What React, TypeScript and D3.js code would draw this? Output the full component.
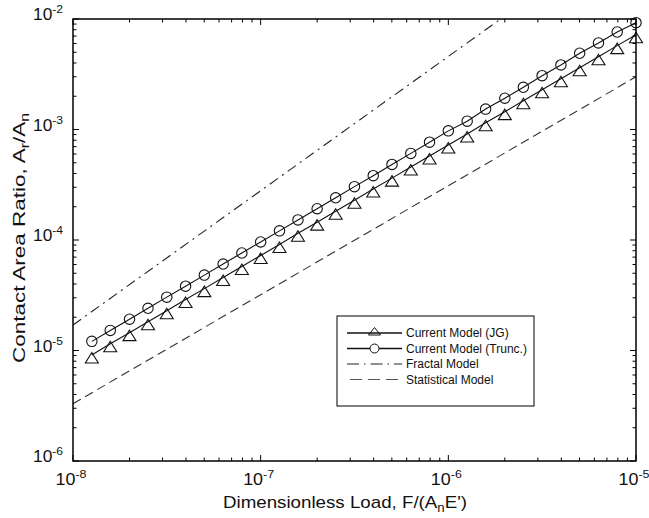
import * as d3 from 'd3';

// dimensionless load F/(An E') at the marker positions
const loads = [
  1.26e-8, 1.58e-8, 2.0e-8, 2.51e-8, 3.16e-8, 3.98e-8, 5.01e-8, 6.31e-8, 7.94e-8, 1.0e-7,
  1.26e-7, 1.58e-7, 2.0e-7, 2.51e-7, 3.16e-7, 3.98e-7, 5.01e-7, 6.31e-7, 7.94e-7, 1.0e-6,
  1.26e-6, 1.58e-6, 2.0e-6, 2.51e-6, 3.16e-6, 3.98e-6, 5.01e-6, 6.31e-6, 7.94e-6, 1.0e-5,
];

// Current Model (JG) - triangles
const ratioJG = [
  9.1e-6, 1.15e-5, 1.45e-5, 1.82e-5, 2.29e-5, 2.89e-5, 3.63e-5, 4.58e-5, 5.76e-5, 7.25e-5,
  9.1e-5, 1.15e-4, 1.45e-4, 1.82e-4, 2.29e-4, 2.89e-4, 3.63e-4, 4.58e-4, 5.76e-4, 7.25e-4,
  9.1e-4, 1.15e-3, 1.45e-3, 1.82e-3, 2.29e-3, 2.88e-3, 3.62e-3, 4.56e-3, 5.74e-3, 7.2e-3,
];

// Current Model (Trunc.) - circles
const ratioTrunc = [
  1.21e-5, 1.52e-5, 1.92e-5, 2.41e-5, 3.04e-5, 3.82e-5, 4.81e-5, 6.06e-5, 7.63e-5, 9.6e-5,
  1.21e-4, 1.52e-4, 1.92e-4, 2.41e-4, 3.04e-4, 3.82e-4, 4.83e-4, 6.08e-4, 7.68e-4, 9.72e-4,
  1.19e-3, 1.53e-3, 1.92e-3, 2.41e-3, 3.07e-3, 3.84e-3, 4.9e-3, 6.07e-3, 7.63e-3, 9.26e-3,
];

// straight reference models (endpoints)
const fractalPts: [number, number][] = [[1e-8, 1.7e-5], [1.9e-6, 1e-2]];
const statisticalPts: [number, number][] = [[1e-8, 3.3e-6], [1e-5, 3.0e-3]];

const xTickExp = [-8, -7, -6, -5];
const yTickExp = [-6, -5, -4, -3, -2];

const legendLabels = ['Current Model (JG)', 'Current Model (Trunc.)', 'Fractal Model', 'Statistical Model'];

const W = 649;
const H = 518;
const M = { left: 73, right: 636, top: 19, bottom: 461 };
const FONT = '"Liberation Sans", Arial, Helvetica, sans-serif';

const x = d3.scaleLog().domain([1e-8, 1e-5]).range([M.left, M.right]);
const y = d3.scaleLog().domain([1e-6, 1e-2]).range([M.bottom, M.top]);

function minorValues(lo: number, hi: number) {
  const out: number[] = [];
  for (let e = lo; e < hi; e++) {
    for (let m = 2; m <= 9; m++) out.push(m * Math.pow(10, e));
  }
  return out;
}

function triPath(px: number, py: number, hw: number, top: number, bot: number) {
  return `M${px},${py - top}L${px + hw},${py + bot}L${px - hw},${py + bot}Z`;
}

export default function App() {
  const line = d3.line<[number, number]>().x((d) => x(d[0])).y((d) => y(d[1]));
  const jg = loads.map((l, i) => [l, ratioJG[i]] as [number, number]);
  const tr = loads.map((l, i) => [l, ratioTrunc[i]] as [number, number]);

  const majorLen = 6;
  const minorLen = 3.5;
  const xMinor = minorValues(-8, -5);
  const yMinor = minorValues(-6, -2);

  const lg = { x: 337, y: 316, w: 197, h: 90, row0: 333, rowH: 15.5, l0: 347, l1: 402, tx: 406 };

  return (
    <svg
      width={W}
      height={H}
      style={{ position: 'absolute', left: 0, top: 0, background: '#fff' }}
      fontFamily={FONT}
    >
      <defs>
        <clipPath id="plotClip">
          <rect x={M.left} y={M.top} width={M.right - M.left} height={M.bottom - M.top} />
        </clipPath>
      </defs>
      <rect width={W} height={H} fill="#fff" />

      {/* reference models */}
      <g clipPath="url(#plotClip)" fill="none">
        <path d={line(fractalPts) || ''} stroke="#222" strokeWidth={1.1} strokeDasharray="10,5,2,5" />
        <path d={line(statisticalPts) || ''} stroke="#333" strokeWidth={1.1} strokeDasharray="9,5" />
      </g>

      {/* current models */}
      <path d={line(jg) || ''} fill="none" stroke="#111" strokeWidth={1.1} />
      <path d={line(tr) || ''} fill="none" stroke="#111" strokeWidth={1.1} />
      {jg.map((d, i) => (
        <path key={'t' + i} d={triPath(x(d[0]), y(d[1]), 6.5, 2.5, 8)} fill="none" stroke="#111" strokeWidth={1.1} />
      ))}
      {tr.map((d, i) => (
        <circle key={'c' + i} cx={x(d[0])} cy={y(d[1])} r={5.2} fill="none" stroke="#111" strokeWidth={1.1} />
      ))}

      {/* axes box + inward ticks */}
      <g stroke="#000" strokeWidth={1}>
        {xTickExp.map((e) => {
          const px = x(Math.pow(10, e));
          return (
            <g key={'xt' + e}>
              <line x1={px} x2={px} y1={M.bottom} y2={M.bottom - majorLen} />
              <line x1={px} x2={px} y1={M.top} y2={M.top + majorLen} />
            </g>
          );
        })}
        {xMinor.map((v, i) => (
          <g key={'xm' + i}>
            <line x1={x(v)} x2={x(v)} y1={M.bottom} y2={M.bottom - minorLen} />
            <line x1={x(v)} x2={x(v)} y1={M.top} y2={M.top + minorLen} />
          </g>
        ))}
        {yTickExp.map((e) => {
          const py = y(Math.pow(10, e));
          return (
            <g key={'yt' + e}>
              <line x1={M.left} x2={M.left + majorLen} y1={py} y2={py} />
              <line x1={M.right} x2={M.right - majorLen} y1={py} y2={py} />
            </g>
          );
        })}
        {yMinor.map((v, i) => (
          <g key={'ym' + i}>
            <line x1={M.left} x2={M.left + minorLen} y1={y(v)} y2={y(v)} />
            <line x1={M.right} x2={M.right - minorLen} y1={y(v)} y2={y(v)} />
          </g>
        ))}
      </g>
      <rect
        x={M.left}
        y={M.top}
        width={M.right - M.left}
        height={M.bottom - M.top}
        fill="none"
        stroke="#000"
        strokeWidth={1.5}
      />

      {/* tick labels */}
      {xTickExp.map((e) => (
        <text
          key={'xl' + e}
          x={x(Math.pow(10, e)) - 2}
          y={485}
          textAnchor="middle"
          fontSize={16.5}
          fill="#111"
          textLength={31}
          lengthAdjust="spacingAndGlyphs"
        >
          10
          <tspan dy={-7} fontSize={11.5}>{e}</tspan>
        </text>
      ))}
      {yTickExp.map((e) => (
        <text
          key={'yl' + e}
          x={63}
          y={y(Math.pow(10, e)) + 1}
          textAnchor="end"
          fontSize={16.5}
          fill="#111"
          textLength={30}
          lengthAdjust="spacingAndGlyphs"
        >
          10
          <tspan dy={-7} fontSize={11.5}>{e}</tspan>
        </text>
      ))}

      {/* axis titles */}
      <text x={345} y={508} textAnchor="middle" fontSize={17} fill="#111" textLength={244} lengthAdjust="spacingAndGlyphs">
        Dimensionless Load, F/(A<tspan dy={4} fontSize={12}>n</tspan><tspan dy={-4}>E')</tspan>
      </text>
      <text
        transform="translate(25,238) rotate(-90)"
        textAnchor="middle"
        fontSize={17}
        fill="#111"
        textLength={250}
        lengthAdjust="spacingAndGlyphs"
      >
        Contact Area Ratio, A<tspan dy={4} fontSize={12}>r</tspan><tspan dy={-4}>/A</tspan>
        <tspan dy={4} fontSize={12}>n</tspan>
      </text>

      {/* legend */}
      <g>
        <rect x={lg.x} y={lg.y} width={lg.w} height={lg.h} fill="#fff" stroke="#000" strokeWidth={1} />
        {legendLabels.map((lab, i) => {
          const ry = lg.row0 + i * lg.rowH;
          const cx = (lg.l0 + lg.l1) / 2;
          return (
            <g key={'lg' + i}>
              {i === 0 && (
                <>
                  <line x1={lg.l0} x2={lg.l1} y1={ry} y2={ry} stroke="#111" strokeWidth={1.4} />
                  <path d={triPath(cx, ry, 6, 5.5, 2)} fill="none" stroke="#111" strokeWidth={1} />
                </>
              )}
              {i === 1 && (
                <>
                  <line x1={lg.l0} x2={lg.l1} y1={ry} y2={ry} stroke="#111" strokeWidth={1.4} />
                  <circle cx={cx} cy={ry} r={4.5} fill="#fff" stroke="#111" strokeWidth={1} />
                </>
              )}
              {i === 2 && (
                <line x1={lg.l0} x2={lg.l1} y1={ry} y2={ry} stroke="#222" strokeWidth={1} strokeDasharray="12,5,1.5,5" />
              )}
              {i === 3 && (
                <line x1={lg.l0 + 3} x2={lg.l1} y1={ry} y2={ry} stroke="#555" strokeWidth={1} strokeDasharray="12,6" />
              )}
              <text x={lg.tx} y={ry + 4} fontSize={12} fill="#111">
                {lab}
              </text>
            </g>
          );
        })}
      </g>
    </svg>
  );
}
